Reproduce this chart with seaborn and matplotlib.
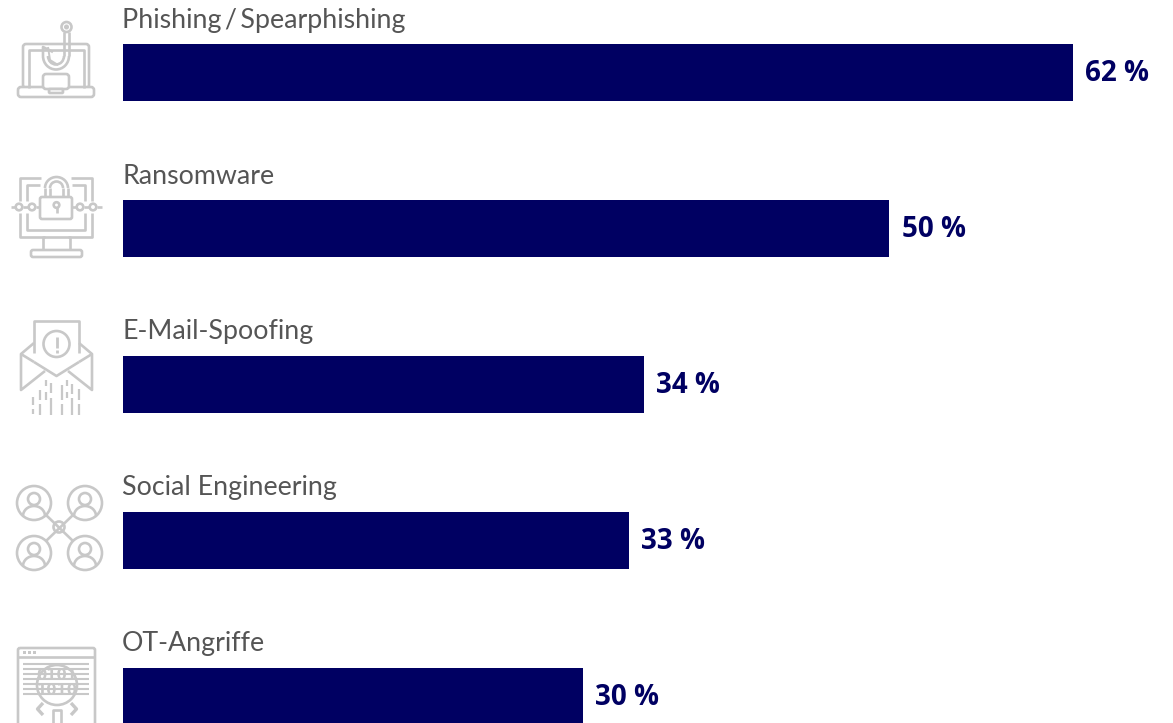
import matplotlib
matplotlib.use("Agg")
import matplotlib.pyplot as plt
import numpy as np
import pandas as pd
import seaborn as sns
from matplotlib.patches import Arc, Circle, FancyBboxPatch, Rectangle

categories = ["Phishing\u2009/\u2009Spearphishing", "Ransomware", "E-Mail-Spoofing",
              "Social Engineering", "OT-Angriffe"]
values = [62, 50, 34, 33, 30]

BAR = "#000062"
TEXT = "#555555"
ICON = "#c8c8c8"
LW = 1.9

W, H = 1173, 723
PX_PER_UNIT = 15.32
ROW = 155.8
FIRST = 72.9
LEFT = 123

sns.set_theme(style="white")
plt.rcParams["font.family"] = ["Lato", "DejaVu Sans"]

fig = plt.figure(figsize=(W / 100, H / 100), dpi=100)
ax = fig.add_axes([0, 0, 1, 1])
df = pd.DataFrame({"category": categories, "value": values})
sns.barplot(data=df, x="value", y="category", orient="y", color=BAR, saturation=1,
            width=57 / ROW, linewidth=0, ax=ax)
ax.set_xlim(-LEFT / PX_PER_UNIT, (W - LEFT) / PX_PER_UNIT)
ax.set_ylim((H - FIRST) / ROW, -FIRST / ROW)
ax.axis("off")

for i, (cat, val) in enumerate(zip(categories, values)):
    ax.annotate(cat, (0, i), xytext=(-1, 52.5), textcoords="offset pixels", va="center",
                ha="left", fontsize=19.3, color=TEXT, annotation_clip=False)
    ax.annotate(f"{val} %", (val, i), xytext=(12.5, -1), textcoords="offset pixels", va="center",
                ha="left", fontsize=20, color=BAR, fontweight="bold",
                family=["Open Sans", "DejaVu Sans"], annotation_clip=False)

# Overlay in pixel coordinates for the line-art pictograms
ov = fig.add_axes([0, 0, 1, 1], facecolor="none")
ov.set_xlim(0, W)
ov.set_ylim(H, 0)
ov.axis("off")


def line(xs, ys, lw=LW, **kw):
    ov.plot(xs, ys, color=ICON, lw=lw, solid_capstyle="butt", **kw)


def rrect(x0, y0, x1, y1, r=2, fc="none", lw=LW):
    ov.add_patch(FancyBboxPatch((x0 + r, y0 + r), x1 - x0 - 2 * r, y1 - y0 - 2 * r,
                                boxstyle=f"round,pad={r}", fc=fc, ec=ICON, lw=lw))


def circle(cx, cy, r, fc="none", lw=LW):
    ov.add_patch(Circle((cx, cy), r, fc=fc, ec=ICON, lw=lw))


def arc(cx, cy, w, h, a0, a1, lw=LW):
    ov.add_patch(Arc((cx, cy), w, h, theta1=a0, theta2=a1, ec=ICON, lw=lw))


def person(cx, cy):
    circle(cx, cy, 17, fc="white")
    circle(cx, cy - 4, 6)
    arc(cx, cy + 13, 22, 20, 180, 360)


# Laptop with fishing hook
rrect(23, 44, 89, 88, 3)
line([28.5, 28.5, 84, 84], [88, 50, 50, 88])
rrect(18, 87, 94, 97, 3, fc="white")
ov.add_patch(Rectangle((42, 46), 28, 26, fc="white", ec="none"))
circle(66.5, 27, 5)
circle(66.5, 27, 1.2)
line([64, 64], [32, 56])
line([69, 69], [32, 56])
arc(56, 56, 26, 27, 0, 180)
arc(56, 56, 16, 17, 0, 180)
line([43, 43, 53], [56, 47, 52])
line([48, 50, 58], [47, 60, 65], lw=1.4)
rrect(43, 74, 69, 89, 3, fc="white")
rrect(49, 89, 63, 93, 1, fc="white")

# Monitor with padlock and chain
line([41, 20, 20], [178, 178, 201])
line([71, 92, 92], [178, 178, 201])
line([20, 20, 92, 92], [213, 237, 237, 213])
line([27, 27, 40], [201, 185, 185])
line([72, 85, 85], [185, 185, 201])
line([27, 27, 85, 85], [213, 230, 230, 213])
arc(56.5, 188, 23, 22, 180, 360)
arc(56.5, 188, 13, 13, 180, 360)
line([45, 45], [188, 197])
line([68, 68], [188, 197])
line([50, 50], [188, 197])
line([63, 63], [188, 197])
rrect(40, 197, 72, 219, 2, fc="white")
circle(56.5, 205, 2.8)
line([56.5, 56.5], [207, 213])
for cx in (19, 32, 80, 93):
    circle(cx, 207, 3.3)
line([11, 15.5], [207, 207])
line([22.5, 28.5], [207, 207])
line([35.5, 40], [207, 207])
line([72, 76.5], [207, 207])
line([83.5, 89.5], [207, 207])
line([96.5, 102], [207, 207])
line([45, 43, 43], [237, 237, 250])
line([68, 70, 70], [237, 237, 250])
rrect(31, 250, 82, 257, 2)

# Open envelope with alert and data streams
line([34, 34, 79, 79], [353, 321, 321, 353])
line([34, 56.5, 79], [362, 376, 362])
line([34, 21, 21, 45], [343, 354, 390, 371])
line([79, 92, 92, 68], [343, 354, 390, 371])
line([21, 34], [354, 362])
line([92, 79], [354, 362])
circle(56.5, 344, 13)
line([56.5, 56.5], [337, 348], lw=2)
line([56.5, 56.5], [350, 352.5], lw=2)
for x, y0, y1 in [(33, 397, 405), (33, 409, 414), (40, 390, 400), (40, 404, 415),
                  (46, 380, 386), (46, 392, 400), (51, 383, 393), (51, 398, 415),
                  (62, 385, 400), (62, 404, 415), (67, 380, 386), (67, 392, 398),
                  (72, 384, 394), (72, 398, 415), (79, 389, 400), (79, 404, 415)]:
    line([x, x], [y0, y1], lw=1.6)

# Network of four people around a hub
line([46, 73], [515, 541])
line([73, 46], [515, 541])
circle(59, 527, 5.5, fc="white")
for cx, cy in [(34, 503), (85, 503), (34, 553), (85, 553)]:
    person(cx, cy)

# Browser window with magnifier over binary code
rrect(18, 648, 95, 730, 2)
line([18, 95], [657, 657])
for dx in (24, 29, 34):
    ov.add_patch(Rectangle((dx - 1, 651), 3, 3, fc=ICON, ec="none"))
for y in (664, 669, 674, 679, 684, 689, 694):
    line([23, 89], [y, y], lw=1.5)
circle(57, 685, 20, fc="white")
ov.text(57, 683, "0101\n1010", ha="center", va="center", fontsize=10.5, color=ICON,
        fontweight="bold", linespacing=1.0, family=["DejaVu Sans"])
line([43, 37.5, 43], [703, 709, 715], lw=2.4)
line([71, 76.5, 71], [703, 709, 715], lw=2.4)
line([53, 53, 61, 61], [724, 710, 710, 724])

fig.savefig("out.png", dpi=100, facecolor="white")
